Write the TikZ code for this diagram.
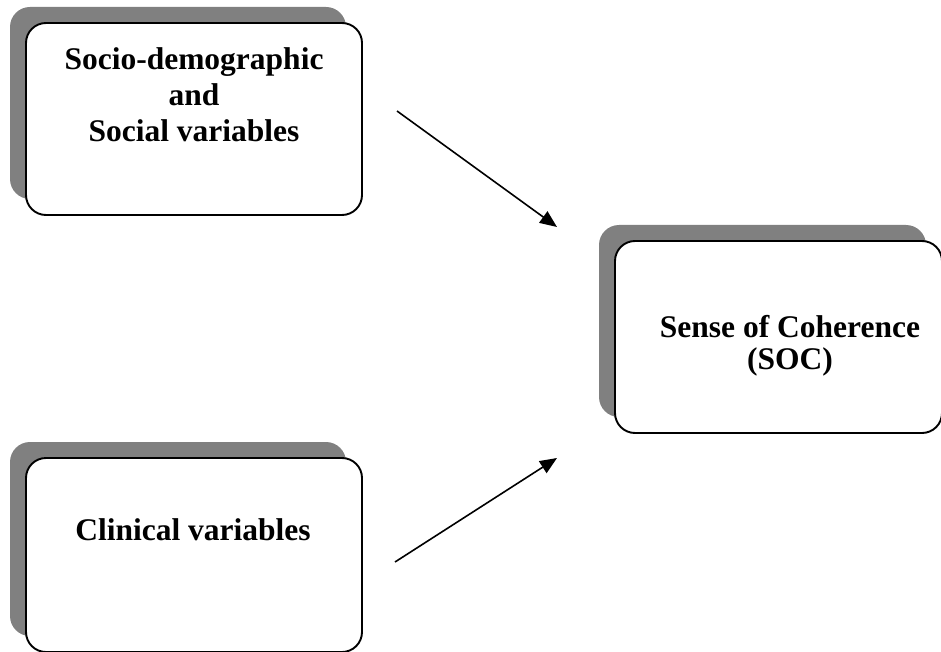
\documentclass[tikz,border=0pt]{standalone}
\usepackage{fontspec}
\setmainfont{Liberation Serif}
\usetikzlibrary{shadows,arrows.meta}
\begin{document}
\begin{tikzpicture}[x=1pt,y=-1pt,
  varbox/.style={draw=black, line width=1.9pt, fill=white, rounded corners=20pt,
    rectangle, inner sep=0pt,
    general shadow={fill=shadowgray, shadow xshift=-16pt, shadow yshift=16pt}},
  lbl/.style={font=\bfseries\fontsize{31.5}{36}\selectfont, align=center, inner sep=0pt, anchor=base},
  conn/.style={line width=1.6pt, -{Triangle[length=17pt,width=14pt]}}]
\definecolor{shadowgray}{HTML}{808080}
\useasboundingbox (0,0) rectangle (941,652);
% boxes
\node[varbox, minimum width=336pt, minimum height=192pt] (sd) at (194,119) {};
\node[varbox, minimum width=327pt, minimum height=192pt] (soc) at (778.5,337) {};
\node[varbox, minimum width=336pt, minimum height=194pt] (cl) at (194,555) {};
% labels
\node[lbl] (t1) at (194,70) {Socio-demographic};
\node[lbl] (t2) at (194,106) {and};
\node[lbl] (t3) at (194,142) {Social variables};
\node[lbl] (t4) at (790,337) {Sense of Coherence};
\node[lbl] (t5) at (790,369) {(SOC)};
\node[lbl] (t6) at (193,540) {Clinical variables};
% connectors
\coordinate (a1s) at (397,111);
\coordinate (a1e) at (557,227);
\coordinate (a2s) at (395,562);
\coordinate (a2e) at (557,458);
\draw[conn] (a1s) -- (a1e);
\draw[conn] (a2s) -- (a2e);
\end{tikzpicture}
\end{document}
